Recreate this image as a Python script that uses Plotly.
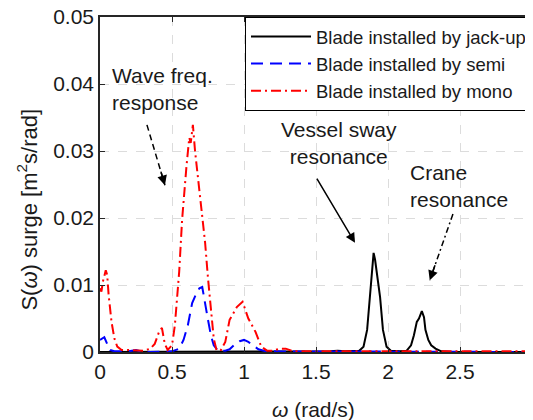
import plotly.graph_objects as go

# ---- data ----
w_mono = [0, 0.01, 0.02, 0.03, 0.04, 0.05, 0.06, 0.08, 0.10, 0.12, 0.15, 0.2, 0.25, 0.3, 0.35,
          0.38, 0.41, 0.43, 0.45, 0.47, 0.5, 0.52, 0.55, 0.57, 0.6, 0.62, 0.63, 0.645, 0.66, 0.67,
          0.69, 0.71, 0.73, 0.75, 0.77, 0.79, 0.81, 0.84, 0.87, 0.9, 0.95, 0.99, 1.03, 1.08, 1.12,
          1.16, 1.2, 1.25, 1.29, 1.33, 1.38, 1.45, 1.6, 1.8, 2.0, 2.2, 2.4, 2.6, 2.8, 3.0]
s_mono = [0.0095, 0.0090, 0.0105, 0.0112, 0.0122, 0.0115, 0.0085, 0.0045, 0.0020, 0.0008, 0.0003,
          0.0003, 0.0002, 0.0002, 0.0005, 0.0012, 0.0030, 0.0036, 0.0012, 0.0003, 0.0010, 0.0040,
          0.0120, 0.0197, 0.0276, 0.0320, 0.0312, 0.0339, 0.0300, 0.0280, 0.0240, 0.0200, 0.0163,
          0.0110, 0.0060, 0.0020, 0.0002, 0.0003, 0.0015, 0.0048, 0.0067, 0.0075, 0.0050, 0.0030,
          0.0008, 0.0002, 0.0002, 0.0005, 0.0005, 0.0002, 0.0001, 0.0001, 0.0001, 0.0001, 0.0001,
          0.0001, 0.0001, 0.0001, 0.0001, 0.0001]

w_semi = [0, 0.02, 0.03, 0.05, 0.07, 0.1, 0.2, 0.25, 0.28, 0.35, 0.5, 0.55, 0.58, 0.61, 0.64,
          0.67, 0.69, 0.71, 0.73, 0.75, 0.77, 0.79, 0.82, 0.87, 0.9, 0.93, 0.97, 1.0, 1.03, 1.07,
          1.1, 1.15, 1.3, 1.6, 2.0, 2.5, 3.0]
s_semi = [0.0018, 0.0020, 0.0022, 0.0012, 0.0003, 0.0001, 0.0001, 0.0003, 0.0001, 0.0, 0.0001,
          0.0005, 0.0018, 0.0040, 0.0073, 0.0088, 0.0095, 0.0097, 0.0075, 0.0048, 0.0025, 0.0010,
          0.0002, 0.0002, 0.0004, 0.0010, 0.0016, 0.0018, 0.0015, 0.0008, 0.0004, 0.0001, 0.0001,
          0.0, 0.0, 0.0, 0.0]

w_jack = [0, 0.5, 1.0, 1.5, 1.6, 1.65, 1.7, 1.8, 1.83, 1.855, 1.875, 1.89, 1.9, 1.91, 1.925,
          1.945, 1.965, 1.99, 2.02, 2.08, 2.13, 2.16, 2.18, 2.2, 2.215, 2.235, 2.25, 2.26, 2.28,
          2.3, 2.33, 2.37, 2.45, 2.6, 2.8, 3.0]
s_jack = [0, 0, 0, 0, 0.0001, 0.0002, 0.0001, 0.0002, 0.0008, 0.0033, 0.0082, 0.0125, 0.0148,
          0.0138, 0.0110, 0.0082, 0.0033, 0.0008, 0.0002, 0.0001, 0.0002, 0.0010, 0.0025, 0.0045,
          0.0050, 0.0061, 0.0052, 0.0033, 0.0018, 0.0010, 0.0005, 0.0001, 0.0, 0.0, 0.0, 0.0]

x_ticks = [0, 0.5, 1, 1.5, 2, 2.5, 3]
x_tick_labels = ["0", "0.5", "1", "1.5", "2", "2.5", "3"]
y_ticks = [0, 0.01, 0.02, 0.03, 0.04, 0.05]
y_tick_labels = ["0", "0.01", "0.02", "0.03", "0.04", "0.05"]

FONT = "Liberation Sans, Arial, sans-serif"
TXT = "#1a1a1a"
AX = "#262626"

fig = go.Figure()
fig.add_trace(go.Scatter(x=w_jack, y=s_jack, mode="lines", name="Blade installed by jack-up",
                         line=dict(color="black", width=2)))
fig.add_trace(go.Scatter(x=w_semi, y=s_semi, mode="lines", name="Blade installed by semi",
                         line=dict(color="#0000ff", width=2, dash="12px,7px")))
fig.add_trace(go.Scatter(x=w_mono, y=s_mono, mode="lines", name="Blade installed by mono",
                         line=dict(color="#ff0000", width=2, dash="10px,4px,2px,4px")))

axis_common = dict(showline=True, linecolor=AX, linewidth=1.5, mirror="ticks",
                   ticks="inside", ticklen=5, tickcolor=AX, tickwidth=1,
                   showgrid=True, gridcolor="#dcdcdc", griddash="dash", gridwidth=1,
                   zeroline=False, automargin=False, ticklabeloverflow="allow",
                   tickfont=dict(family=FONT, size=21, color=TXT))

fig.update_xaxes(range=[0, 3], tickvals=x_ticks, ticktext=x_tick_labels, **axis_common)
fig.update_yaxes(range=[0, 0.05], tickvals=y_ticks, ticktext=y_tick_labels, **axis_common)

annos = []
shapes = []
# texts
annos.append(dict(x=0.069, y=0.0393, xref="x", yref="y", text="Wave freq.<br>response",
                  showarrow=False, xanchor="left", yanchor="middle", align="left",
                  font=dict(family=FONT, size=21, color=TXT)))
annos.append(dict(x=1.66, y=0.0312, xref="x", yref="y", text="Vessel sway<br>resonance",
                  showarrow=False, xanchor="center", yanchor="middle", align="center",
                  font=dict(family=FONT, size=21, color=TXT)))
annos.append(dict(x=2.139, y=0.0248, xref="x", yref="y", text="Crane<br>resonance",
                  showarrow=False, xanchor="left", yanchor="middle", align="left",
                  font=dict(family=FONT, size=21, color=TXT)))

arrows = [
    ((0.326, 0.0339), (0.451, 0.0249), "dash"),
    ((1.50, 0.0261), (1.771, 0.0163), "solid"),
    ((2.451, 0.0206), (2.29, 0.0107), "dashdot"),
]
for (sx, sy), (tx, ty), dash in arrows:
    if dash == "solid":
        annos.append(dict(x=tx, y=ty, ax=sx, ay=sy, xref="x", yref="y", axref="x", ayref="y",
                          text="", showarrow=True, arrowhead=2, arrowsize=1.3, arrowwidth=1.5,
                          arrowcolor="black"))
    else:
        shapes.append(dict(type="line", x0=sx, y0=sy, x1=tx, y1=ty, xref="x", yref="y",
                           line=dict(color="black", width=1.5,
                                     dash="6px,4px" if dash == "dash" else "6px,3px,2px,3px")))
        hx = tx + 0.25 * (sx - tx)
        hy = ty + 0.25 * (sy - ty)
        annos.append(dict(x=tx, y=ty, ax=hx, ay=hy, xref="x", yref="y", axref="x", ayref="y",
                          text="", showarrow=True, arrowhead=2, arrowsize=1.3, arrowwidth=1.5,
                          arrowcolor="black"))

# axis titles
annos.append(dict(x=-0.169, y=0.425, xref="paper", yref="paper", textangle=-90,
                  text="S(<i>ω</i>) surge [m<sup>2</sup>s/rad]", showarrow=False,
                  xanchor="center", yanchor="middle",
                  font=dict(family=FONT, size=22, color=TXT)))
annos.append(dict(x=0.495, y=-0.173, xref="paper", yref="paper",
                  text="<i>ω</i> (rad/s)", showarrow=False, xanchor="center", yanchor="middle",
                  font=dict(family=FONT, size=21, color=TXT)))

# the page body has an 8 px default margin; size the figure to fit the 533x420 window
fig.update_layout(
    width=525, height=412,
    margin=dict(l=92, r=1, t=9, b=68),
    paper_bgcolor="white", plot_bgcolor="white",
    showlegend=True,
    legend=dict(x=1, y=1, xanchor="right", yanchor="top", bgcolor="white",
                bordercolor="black", borderwidth=1, itemwidth=60,
                font=dict(family=FONT, size=18.5, color=TXT), tracegroupgap=0),
    annotations=annos, shapes=shapes,
)

fig.write_html("out.html")
